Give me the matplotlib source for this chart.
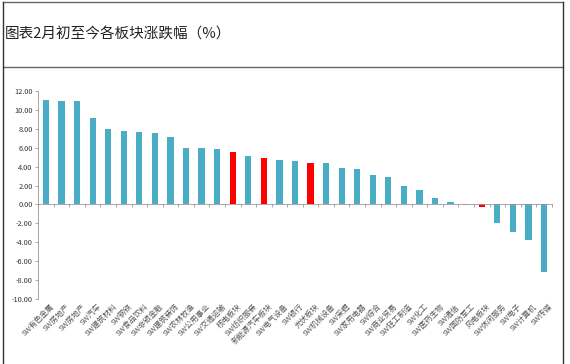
import matplotlib
matplotlib.use("Agg")
import matplotlib.pyplot as plt
from matplotlib.lines import Line2D

plt.rcParams['font.family'] = ['Noto Sans CJK SC', 'DejaVu Sans']

# data
sectors = ["SW有色金属", "SW房地产", "SW房地产", "SW汽车", "SW建筑材料", "SW钢铁",
           "SW食品饮料", "SW非银金融", "SW建筑装饰", "SW农林牧渔", "SW公用事业",
           "SW交通运输", "核电板块", "SW纺织服装", "新能源汽车板块", "SW电气设备",
           "SW银行", "光伏板块", "SW机械设备", "SW采掘", "SW家用电器", "SW综合",
           "SW商业贸易", "SW轻工制造", "SW化工", "SW医药生物", "SW通信",
           "SW国防军工", "风电板块", "SW休闲服务", "SW电子", "SW计算机", "SW传媒"]
changes = [11.0, 10.95, 10.95, 9.15, 7.93, 7.75, 7.68, 7.58, 7.1, 6.0, 6.0,
           5.88, 5.52, 5.1, 4.92, 4.74, 4.57, 4.42, 4.42, 3.89, 3.79, 3.12,
           2.87, 1.91, 1.56, 0.64, 0.28, -0.05, -0.3, -1.95, -2.94, -3.75, -7.19]
highlight = ["核电板块", "新能源汽车板块", "光伏板块", "风电板块"]
yticks = [12, 10, 8, 6, 4, 2, 0, -2, -4, -6, -8, -10]

colors = ["#FF0000" if s in highlight else "#4BACC6" for s in sectors]
x = list(range(len(sectors)))

fig = plt.figure(figsize=(5.7, 3.64), dpi=100)
ax = fig.add_axes([0.067, 0.1786, 0.901, 0.5714])

ax.bar(x, changes, width=0.4, color=colors)
ax.set_xlim(-0.5, len(sectors) - 0.5)
ax.set_ylim(-10, 12)
ax.set_yticks(yticks)
ax.set_yticklabels(["%.2f" % v for v in yticks], fontsize=5.3, color="#333333")
ax.tick_params(axis="y", length=2, width=0.6, color="#999999", pad=2)

for side in ["top", "right"]:
    ax.spines[side].set_visible(False)
ax.spines["left"].set_color("#999999")
ax.spines["left"].set_linewidth(0.6)
ax.spines["bottom"].set_position(("data", 0))
ax.spines["bottom"].set_color("#999999")
ax.spines["bottom"].set_linewidth(0.6)

# tick marks on category boundaries, labels placed below the plot
ax.set_xticks([i - 0.5 for i in x] + [len(sectors) - 0.5])
ax.set_xticklabels([])
ax.tick_params(axis="x", length=2, width=0.6, color="#999999")
for i, name in enumerate(sectors):
    ax.text(i + 0.3, -10.4, name, rotation=45, ha="right", va="top",
            rotation_mode="anchor", fontsize=5.5, color="#555555")

# title and frame lines
fig.text(0.009, 0.905, "图表2月初至今各板块涨跌幅（%）", fontsize=10.5,
         color="#222222", va="center")
fig.add_artist(Line2D([0.005, 0.988], [0.994, 0.994], color="#666666", lw=1))
fig.add_artist(Line2D([0.005, 0.988], [0.817, 0.817], color="#666666", lw=1))
fig.add_artist(Line2D([0.005, 0.005], [0.0, 0.994], color="#333333", lw=1))
fig.add_artist(Line2D([0.988, 0.988], [0.0, 0.994], color="#333333", lw=1))

plt.savefig("out.png", dpi=100)
